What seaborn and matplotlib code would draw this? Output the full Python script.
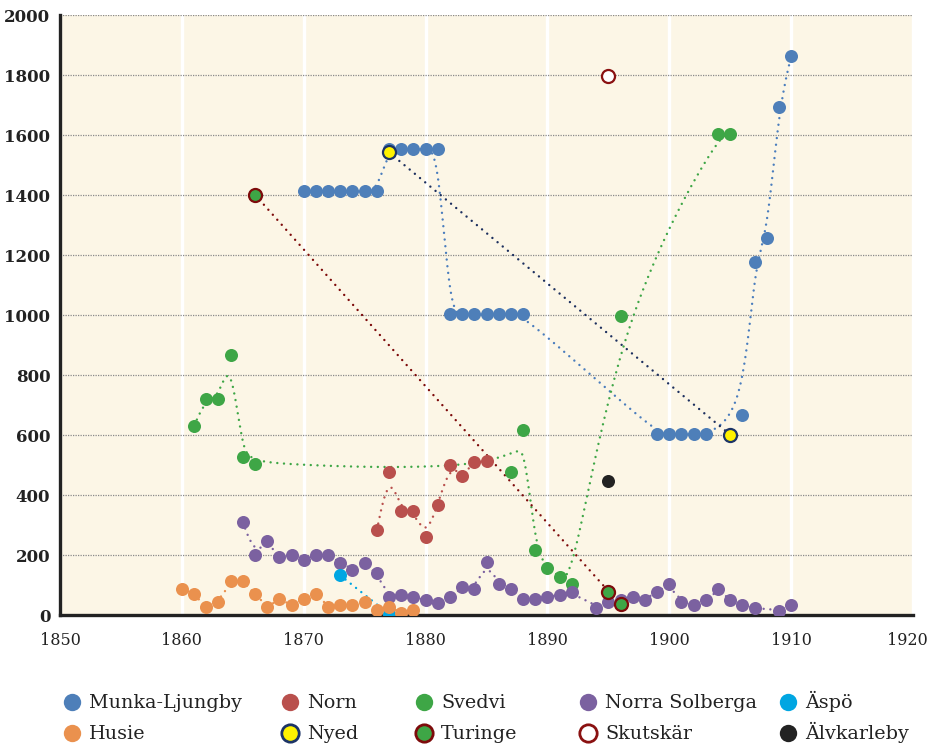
import numpy as np
import matplotlib
matplotlib.use("Agg")
import matplotlib.pyplot as plt
import matplotlib.transforms as mtransforms
from matplotlib.lines import Line2D
import seaborn as sns

# values
munka_years = [1870, 1871, 1872, 1873, 1874, 1875, 1876,
               1877, 1878, 1879, 1880, 1881,
               1882, 1883, 1884, 1885, 1886, 1887, 1888,
               1899, 1900, 1901, 1902, 1903,
               1906, 1907, 1908, 1909, 1910]
munka_vals = [1413, 1413, 1413, 1413, 1413, 1413, 1413,
              1553, 1553, 1553, 1553, 1553,
              1003, 1003, 1003, 1003, 1003, 1003, 1003,
              602, 602, 602, 602, 602,
              668, 1177, 1256, 1692, 1862]

norn_years = [1876, 1877, 1878, 1879, 1880, 1881, 1882, 1883, 1884, 1885]
norn_vals = [283, 478, 347, 347, 259, 367, 500, 464, 509, 514]

svedvi_years = [1861, 1862, 1863, 1864, 1865, 1866, 1887, 1888, 1889,
                1890, 1891, 1892, 1896, 1904, 1905]
svedvi_vals = [631, 721, 721, 867, 528, 502, 478, 618, 217,
               156, 128, 102, 998, 1603, 1603]

solberga_years = [1865, 1866, 1867, 1868, 1869, 1870, 1871, 1872, 1873, 1874,
                  1875, 1876, 1877, 1878, 1879, 1880, 1881, 1882, 1883, 1884,
                  1885, 1886, 1887, 1888, 1889, 1890, 1891, 1892, 1894, 1895,
                  1896, 1897, 1898, 1899, 1900, 1901, 1902, 1903, 1904, 1905,
                  1906, 1907, 1909, 1910]
solberga_vals = [309, 201, 247, 192, 201, 183, 201, 201, 174, 150,
                 174, 139, 59, 68, 59, 50, 41, 59, 94, 86,
                 176, 103, 86, 52, 52, 59, 68, 78, 24, 42,
                 50, 59, 50, 78, 103, 42, 32, 50, 86, 50,
                 32, 24, 14, 32]

aspo_years = [1873, 1877]
aspo_vals = [132, 3]

husie_years = [1860, 1861, 1862, 1863, 1864, 1865, 1866, 1867, 1868, 1869,
               1870, 1871, 1872, 1873, 1874, 1875, 1876, 1877, 1878, 1879]
husie_vals = [88, 69, 26, 42, 114, 114, 70, 26, 52, 33,
              52, 70, 26, 33, 33, 42, 17, 26, 8, 17]

nyed_years = [1877, 1905]
nyed_vals = [1542, 601]

turinge_years = [1866, 1895, 1896]
turinge_vals = [1401, 78, 36]

skutskar_years = [1895]
skutskar_vals = [1798]

alvkarleby_years = [1895]
alvkarleby_vals = [448]

# name, years, values, face, edge, line colour
SERIES = [
    ("Munka-Ljungby", munka_years, munka_vals, "#4e7fb9", "#4e7fb9", "#4a7dbd"),
    ("Norn", norn_years, norn_vals, "#b9504d", "#b9504d", "#b9504d"),
    ("Svedvi", svedvi_years, svedvi_vals, "#3ea646", "#3ea646", "#3ea646"),
    ("Norra Solberga", solberga_years, solberga_vals, "#7b61a0", "#7b61a0", "#7b61a0"),
    ("Äspö", aspo_years, aspo_vals, "#00a6e2", "#00a6e2", "#00a6e2"),
    ("Husie", husie_years, husie_vals, "#ea914e", "#ea914e", "#ea914e"),
    ("Nyed", nyed_years, nyed_vals, "#fff200", "#1c3466", "#1c2f5e"),
    ("Turinge", turinge_years, turinge_vals, "#3ea646", "#7d0b0b", "#7d0b0b"),
    ("Skutskär", skutskar_years, skutskar_vals, "#ffffff", "#8a1111", "#8a1111"),
    ("Älvkarleby", alvkarleby_years, alvkarleby_vals, "#222222", "#222222", "#222222"),
]

# legend laid out in two rows of five, column by column
LEGEND_COLUMNS = [
    ["Munka-Ljungby", "Husie"],
    ["Norn", "Nyed"],
    ["Svedvi", "Turinge"],
    ["Norra Solberga", "Skutskär"],
    ["Äspö", "Älvkarleby"],
]
LEGEND_X = [72, 290, 424, 588, 788]   # marker centres, px
LEGEND_Y = [702, 733]                 # row centres, px

sns.set_style("white")
plt.rcParams["font.family"] = ["DejaVu Serif"]
plt.rcParams["text.color"] = "#222222"

W, H = 929, 745


def basis_curve(xs, ys, n=24):
    # uniform cubic B-spline through the points, ends clamped (like d3 curveBasis)
    c = np.column_stack([xs, ys]).astype(float)
    c = np.vstack([c[:1], c[:1], c, c[-1:], c[-1:]])
    t = np.linspace(0, 1, n)[:, None]
    b0 = (1 - t) ** 3 / 6
    b1 = (3 * t ** 3 - 6 * t ** 2 + 4) / 6
    b2 = (-3 * t ** 3 + 3 * t ** 2 + 3 * t + 1) / 6
    b3 = t ** 3 / 6
    segs = [b0 * c[i] + b1 * c[i + 1] + b2 * c[i + 2] + b3 * c[i + 3]
            for i in range(len(c) - 3)]
    pts = np.vstack(segs)
    return pts[:, 0], pts[:, 1]


fig = plt.figure(figsize=(W / 100, H / 100), dpi=100)
ax = fig.add_axes([60 / W, 1 - 615 / H, 853 / W, 600 / H])
ax.set_facecolor("#fcf6e6")

for name, yrs, vals, face, edge, lc in SERIES:
    if len(yrs) > 1:
        cx, cy = basis_curve(yrs, vals)
        ax.plot(cx, cy, color=lc, linewidth=1.75, linestyle=(0, (0.01, 2.75)),
                dash_capstyle="round", zorder=2)

for name, yrs, vals, face, edge, lc in SERIES:
    lw = 1.6 if face != edge else 0
    sns.scatterplot(x=yrs, y=vals, color=face, edgecolor=edge, linewidth=lw,
                    s=88, ax=ax, zorder=3, legend=False)

ax.set_xlim(1850, 1920)
ax.set_ylim(0, 2000)
ax.set_xticks(range(1850, 1921, 10))
ax.set_yticks(range(0, 2001, 200))
ax.set_xlabel("")
ax.set_ylabel("")
ax.set_axisbelow(True)
ax.yaxis.grid(True, color="#8a8a8a", linestyle=(0, (1, 1)), linewidth=0.9)
ax.xaxis.grid(True, color="white", linestyle="-", linewidth=2.4)
for side in ["top", "right"]:
    ax.spines[side].set_visible(False)
for side in ["left", "bottom"]:
    ax.spines[side].set_color("#222222")
    ax.spines[side].set_linewidth(2.4)
ax.tick_params(axis="x", direction="out", length=7, width=1.2, color="#222222",
               labelsize=11.5, pad=5, labelcolor="#222222")
ax.tick_params(axis="y", length=0, labelsize=12, pad=7, labelcolor="#222222")
for lab in ax.get_yticklabels():
    lab.set_fontweight("bold")
# keep the last year label inside the canvas
last = ax.get_xticklabels()[-1]
last.set_transform(last.get_transform() + mtransforms.ScaledTranslation(-6 / 100, 0, fig.dpi_scale_trans))

style = {name: (face, edge) for name, _, _, face, edge, _ in SERIES}
for col, x in zip(LEGEND_COLUMNS, LEGEND_X):
    for name, y in zip(col, LEGEND_Y):
        face, edge = style[name]
        fig.add_artist(Line2D([x / W], [1 - y / H], transform=fig.transFigure,
                              linestyle="none", marker="o", markersize=12.5,
                              markerfacecolor=face, markeredgecolor=edge,
                              markeredgewidth=2 if face != edge else 0))
        fig.text((x + 17) / W, 1 - (y + 6) / H, name, fontsize=13.8,
                 ha="left", va="baseline", color="#222222")

fig.savefig("out.png", dpi=100)
